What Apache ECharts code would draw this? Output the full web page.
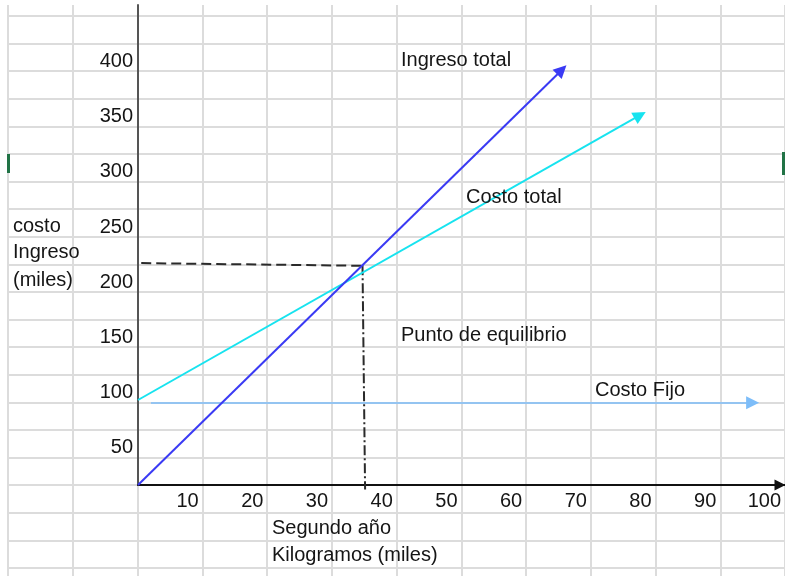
<!DOCTYPE html>
<html>
<head>
<meta charset="utf-8">
<script src="https://cdn.jsdelivr.net/npm/echarts@6/dist/echarts.min.js"></script>
<style>
  html, body { margin: 0; padding: 0; background: #ffffff; }
  #chart { width: 785px; height: 576px; }
</style>
</head>
<body>
<div id="chart"></div>
<script>
// tick labels
const xTicks = [10, 20, 30, 40, 50, 60, 70, 80, 90, 100];
const yTicks = [50, 100, 150, 200, 250, 300, 350, 400];

// lines (x = kilogramos miles, y = costo / ingreso miles)
const ingresoTotal = [[0, 0], [65.5, 376]];
const costoTotal = [[0, 77], [77.6, 335]];
const costoFijo = [[2, 74.5], [95, 74.5]];
const guiaEquilibrioH = [[0.5, 201], [34.5, 198.6]];
const guiaEquilibrioV = [[34.7, 199], [35.1, -4]];

const FONT = '"Liberation Sans", Arial, sans-serif';
const TXT = '#151515';
const GRID_LINE = { show: true, lineStyle: { color: '#dcdcdc', width: 2 } };

const chart = echarts.init(document.getElementById('chart'), null, { renderer: 'canvas' });

const hiddenAxis = (extra) => Object.assign({
  type: 'value',
  axisLine: { show: false },
  axisTick: { show: false },
  axisLabel: { show: false },
  splitLine: { show: false }
}, extra);

function arrowLine(name, coords, color, width) {
  return {
    type: 'lines',
    name: name,
    coordinateSystem: 'cartesian2d',
    xAxisIndex: 2,
    yAxisIndex: 2,
    clip: false,
    z: 3,
    symbol: ['none', 'triangle'],
    symbolSize: [12, 13],
    lineStyle: { color: color, width: width, opacity: 1 },
    data: [{ coords: coords }]
  };
}

function guide(name, coords, dash) {
  return {
    type: 'lines',
    name: name,
    coordinateSystem: 'cartesian2d',
    xAxisIndex: 2,
    yAxisIndex: 2,
    clip: false,
    z: 2,
    symbol: ['none', 'none'],
    lineStyle: { color: '#2a2a2a', width: 2, type: dash, opacity: 1 },
    data: [{ coords: coords }]
  };
}

const label = (text, x, y) => ({
  type: 'text', x: x, y: y, z: 10,
  style: { text: text, font: '20px ' + FONT, fill: TXT, verticalAlign: 'middle' }
});

chart.setOption({
  animation: false,
  backgroundColor: '#ffffff',
  grid: [
    // sheet columns
    { left: 8, right: 0, top: 5, bottom: 0, outerBoundsMode: 'none' },
    // sheet rows
    { left: 8, right: 0, top: 16, bottom: 8, outerBoundsMode: 'none' },
    // chart area
    { left: 138, right: 0, top: 5, bottom: 91, outerBoundsMode: 'none' }
  ],
  xAxis: [
    hiddenAxis({ gridIndex: 0, min: -20, max: 100, interval: 10, splitLine: GRID_LINE }),
    hiddenAxis({ gridIndex: 1, min: -20, max: 100, interval: 10 }),
    {
      type: 'value', gridIndex: 2, min: 0, max: 100, interval: 10,
      axisLine: {
        show: true, onZero: false,
        symbol: ['none', 'triangle'], symbolSize: [11, 11], symbolOffset: [0, -5],
        lineStyle: { color: '#111111', width: 2 }
      },
      axisTick: { show: false },
      splitLine: { show: false },
      axisLabel: {
        margin: 6, align: 'right', padding: [0, 4, 0, 0],
        fontSize: 20, fontFamily: FONT, color: TXT, lineHeight: 20,
        formatter: (v) => xTicks.includes(v) ? String(v) : ''
      }
    }
  ],
  yAxis: [
    hiddenAxis({ gridIndex: 0, min: 0, max: 1 }),
    hiddenAxis({ gridIndex: 1, min: -75, max: 425, interval: 25, splitLine: GRID_LINE }),
    {
      type: 'value', gridIndex: 2, min: 0, max: 434.8, interval: 50,
      axisLine: { show: true, onZero: false, lineStyle: { color: '#555555', width: 2 } },
      axisTick: { show: false },
      splitLine: { show: false },
      axisLabel: {
        margin: 5, verticalAlign: 'top', padding: [8, 0, 0, 0],
        fontSize: 20, fontFamily: FONT, color: TXT, lineHeight: 20,
        formatter: (v) => yTicks.includes(v) ? String(v) : ''
      }
    }
  ],
  series: [
    guide('Equilibrio H', guiaEquilibrioH, [10, 5]),
    guide('Equilibrio V', guiaEquilibrioV, [10, 3, 2, 3]),
    arrowLine('Costo Fijo', costoFijo, '#7dbdf9', 1.5),
    arrowLine('Costo total', costoTotal, '#17e3ef', 2),
    arrowLine('Ingreso total', ingresoTotal, '#3a3af4', 2)
  ],
  graphic: [
    // excel selection handles
    { type: 'rect', shape: { x: 7, y: 154, width: 3, height: 19 }, style: { fill: '#217346' }, z: 10 },
    { type: 'rect', shape: { x: 782, y: 152, width: 3, height: 23 }, style: { fill: '#217346' }, z: 10 },
    label('Ingreso total', 401, 60),
    label('Costo total', 466, 197),
    label('Punto de equilibrio', 401, 335),
    label('Costo Fijo', 595, 390),
    label('costo', 13, 226),
    label('Ingreso', 13, 252),
    label('(miles)', 13, 280),
    label('Segundo año', 272, 528),
    label('Kilogramos (miles)', 272, 555)
  ]
});
</script>
</body>
</html>
